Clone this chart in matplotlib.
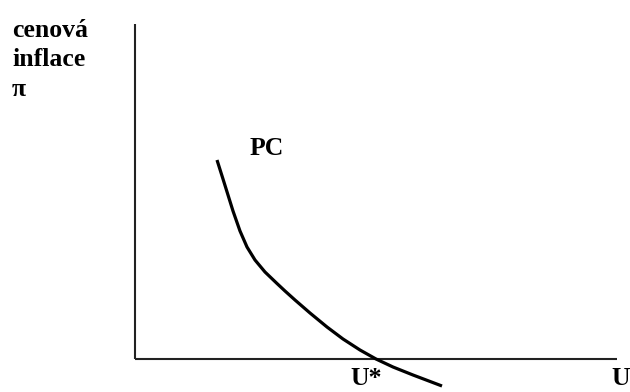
import matplotlib
matplotlib.use("Agg")
import matplotlib.pyplot as plt

# Phillips curve (origin = where the axes cross)
unemployment = [82, 88, 93, 98, 105, 112, 120, 130, 142, 150, 160, 175, 192, 208, 225, 241, 258, 278, 307]
inflation = [199, 180, 164, 148, 128, 112, 99, 87, 75.5, 68, 59, 46, 32, 20, 9, 0, -8, -16, -27]

x_axis_end = 482
y_axis_end = 335

y_label = "cenová\ninflace\nπ"
curve_label = "PC"
natural_label = "U*"
x_label = "U"

fig = plt.figure(figsize=(6.3, 3.92), dpi=100)
ax = fig.add_axes([0, 0, 1, 1])
ax.set_xlim(-135, 495)
ax.set_ylim(-33, 359)
ax.axis("off")

# axes drawn as plain lines
ax.plot([0, 0], [0, y_axis_end], color="#222222", lw=1.5, solid_capstyle="butt")
ax.plot([0, x_axis_end], [0, 0], color="#222222", lw=1.5, solid_capstyle="butt")

ax.plot(unemployment, inflation, color="black", lw=2.3,
        solid_capstyle="butt", solid_joinstyle="round")

font = dict(family="Liberation Serif", weight="bold", fontsize=18.5, color="black")
ax.text(-123, 340, y_label, ha="left", va="top", linespacing=1.35, **font)
ax.text(115, 204, curve_label, ha="left", va="baseline", **font)
ax.text(215, -31, natural_label, ha="left", va="bottom", **font)
ax.text(476, -31, x_label, ha="left", va="bottom", **font)

fig.savefig("out.png", dpi=100)
